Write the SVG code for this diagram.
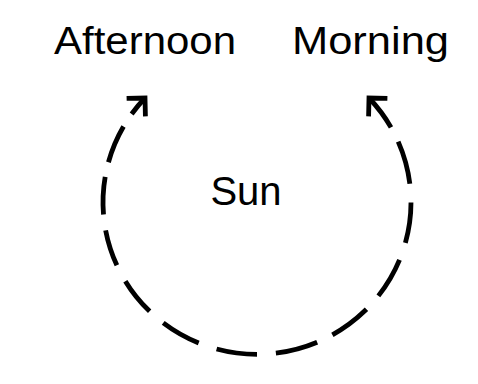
<svg xmlns="http://www.w3.org/2000/svg" width="478" height="384" viewBox="0 0 478 384">
  <style>
    .label { font-family: "Liberation Sans", Arial, Helvetica, sans-serif; fill: #000; }
    .conn { fill: none; stroke: #000; stroke-width: 4.8; stroke-dasharray: 37 16 44 19 41 18 42 18 43 17 43 19 41 19 41 18 39 18 37 16 38 15 39 15 30 100; stroke-linecap: butt; }
    .head { fill: none; stroke: #000; stroke-width: 4.8; stroke-linejoin: miter; stroke-linecap: butt; }
  </style>
  <defs>
    <marker id="arrow" markerUnits="userSpaceOnUse" viewBox="-20 -20 30 40" refX="0" refY="0" markerWidth="30" markerHeight="40" orient="auto-start-reverse" overflow="visible">
      <path class="head" d="M -13 -13 L 0 0 L -13 13"/>
    </marker>
  </defs>
  <rect width="478" height="384" fill="#fff"/>
  <g id="connectors">
    <path id="sun-path" class="conn" pathLength="714" d="M 369 98 A 154 152 0 1 1 145 98" marker-start="url(#arrow)" marker-end="url(#arrow)"/>
  </g>
  <g id="afternoon">
    <text class="label" x="54" y="54" font-size="38" textLength="182" lengthAdjust="spacingAndGlyphs">Afternoon</text>
  </g>
  <g id="morning">
    <text class="label" x="292" y="54" font-size="38" textLength="157" lengthAdjust="spacingAndGlyphs">Morning</text>
  </g>
  <g id="sun">
    <text class="label" x="246" y="205" font-size="40" text-anchor="middle">Sun</text>
  </g>
</svg>
